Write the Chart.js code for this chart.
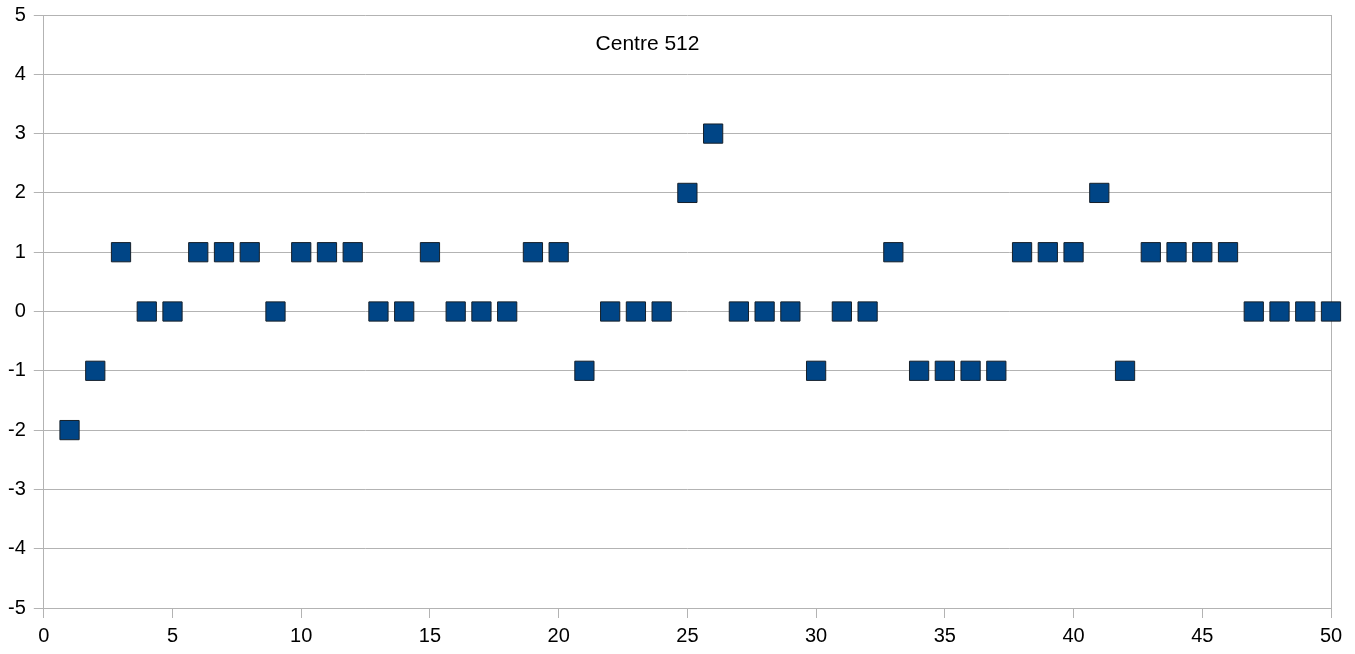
<!DOCTYPE html>
<html>
<head>
<meta charset="utf-8">
<script src="https://cdn.jsdelivr.net/npm/chart.js@4"></script>
<style>
  html, body { margin: 0; padding: 0; background: #fff; }
  #wrap { width: 1355px; height: 654px; }
</style>
</head>
<body>
<div id="wrap"><canvas id="scatterChart" width="1355" height="654"></canvas></div>
<script>
// x positions and values for "Centre 512"
const xValues = [
  1, 2, 3, 4, 5, 6, 7, 8, 9, 10,
  11, 12, 13, 14, 15, 16, 17, 18, 19, 20,
  21, 22, 23, 24, 25, 26, 27, 28, 29, 30,
  31, 32, 33, 34, 35, 36, 37, 38, 39, 40,
  41, 42, 43, 44, 45, 46, 47, 48, 49, 50
];
const yValues = [
  -2, -1, 1, 0, 0, 1, 1, 1, 0, 1,
  1, 1, 0, 0, 1, 0, 0, 0, 1, 1,
  -1, 0, 0, 0, 2, 3, 0, 0, 0, -1,
  0, 0, 1, -1, -1, -1, -1, 1, 1, 1,
  2, -1, 1, 1, 1, 1, 0, 0, 0, 0
];
const chartTitle = 'Centre 512';

const gridColor = '#b3b3b3';
const fontFamily = '"Liberation Sans", Arial, sans-serif';

// title sits inside the plot area
const innerTitle = {
  id: 'innerTitle',
  afterDraw(chart) {
    const ctx = chart.ctx;
    const area = chart.chartArea;
    ctx.save();
    ctx.font = '21px ' + fontFamily;
    ctx.fillStyle = '#000';
    ctx.textAlign = 'center';
    ctx.textBaseline = 'middle';
    ctx.fillText(chartTitle, area.left + (area.right - area.left) * 0.469, area.top + 29);
    ctx.restore();
  }
};

const scatterCtx = document.getElementById('scatterChart').getContext('2d');
new Chart(scatterCtx, {
  type: 'scatter',
  data: {
    datasets: [{
      label: chartTitle,
      data: xValues.map((x, i) => ({ x: x, y: yValues[i] })),
      pointStyle: 'rect',
      pointRadius: 13.6,
      backgroundColor: '#004586',
      borderColor: '#15202b',
      borderWidth: 1,
      clip: false
    }]
  },
  options: {
    responsive: false,
    animation: false,
    layout: {
      padding: { top: 0, right: 24, bottom: 0, left: 0 }
    },
    scales: {
      x: {
        type: 'linear',
        min: 0,
        max: 50,
        ticks: {
          stepSize: 5,
          color: '#000',
          padding: 6,
          font: { family: fontFamily, size: 20 }
        },
        grid: {
          color: ctx => (ctx.tick && ctx.tick.value === 50) ? gridColor : 'rgba(0,0,0,0)',
          tickColor: gridColor,
          tickLength: 10
        },
        border: { color: gridColor }
      },
      y: {
        min: -5,
        max: 5,
        afterFit(scale) {
          scale.paddingTop = 15;
        },
        ticks: {
          stepSize: 1,
          color: '#000',
          padding: 8,
          font: { family: fontFamily, size: 20 }
        },
        grid: {
          color: gridColor,
          tickColor: gridColor,
          tickLength: 10
        },
        border: { color: gridColor }
      }
    },
    plugins: {
      legend: { display: false },
      title: { display: false },
      tooltip: { enabled: false }
    }
  },
  plugins: [innerTitle]
});
</script>
</body>
</html>
